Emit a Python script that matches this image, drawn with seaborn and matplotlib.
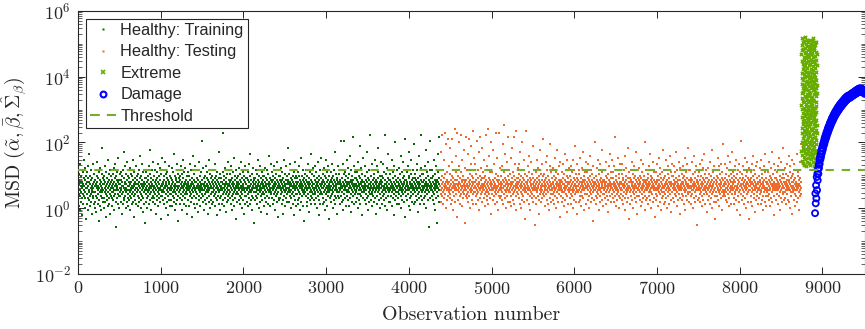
import numpy as np
import matplotlib
matplotlib.use("Agg")
import matplotlib.pyplot as plt
import matplotlib.mathtext as mathtext
import seaborn as sns
from matplotlib.lines import Line2D
from matplotlib.ticker import FixedLocator, LogLocator, NullFormatter, LogFormatterMathtext

# ---------------- data ----------------
TRAIN_RANGE = [1, 4370]        # observation numbers of healthy training samples
TEST_RANGE = [4381, 8745]      # observation numbers of healthy testing samples
EXTREME_RANGE = [8746, 8935]
DAMAGE_RANGE = [8912, 9516]
THRESHOLD = 14.5

# healthy MSD values, coded: log10(MSD) = HEALTHY_LOG_LO + HEALTHY_LOG_STEP * code
HEALTHY_LOG_LO = -2.02
HEALTHY_LOG_STEP = 0.06
TRAIN_CODES = """
44 38 51 46 41 35 48 43 56 40 47 33 45 50 42 37 53 44 39 47 30 46 41 52 45 36 49 43 58 40 45 34 48 42 54 39 46 44 28 50
41 47 36 52 44 39 49 33 45 55 42 38 47 43 61 40 46 35 50 44 41 53 37 48 42 45 31 49 43 39 56 46 40 44 51 36 47 42 45 34
48 42 37 45 53 40 46 32 44 50 39 47 57 43 36 49 41 45 27 52 44 38 46 42 54 35 48 43 40 47 45 33 51 39 44 64 42 46 37 49
43 50 39 46 34 48 42 55 44 37 47 41 52 45 29 43 49 38 46 40 58 44 35 47 42 51 39 45 48 36 43 53 41 46 31 50 44 40 47 42
45 39 48 35 44 51 42 46 38 54 43 40 47 33 49 45 41 56 37 46 43 50 24 44 48 39 45 52 41 36 47 43 59 40 46 34 48 44 42 51
40 46 52 43 37 48 44 31 45 50 41 47 36 53 42 45 39 49 44 62 38 46 43 55 40 47 34 44 51 42 46 37 48 43 57 39 45 41 50 35
47 43 38 49 45 40 54 42 46 33 44 51 39 47 43 36 50 45 41 58 44 37 48 42 52 40 46 29 45 49 38 43 47 41 55 44 36 46 50 42
42 48 44 35 51 40 46 43 39 53 45 37 47 42 60 44 49 34 46 41 50 38 45 43 56 40 48 32 44 46 39 52 42 47 45 36 49 43 26 46
46 41 49 37 44 52 43 39 47 45 34 50 42 48 40 55 44 36 46 43 51 38 45 63 41 47 44 33 49 42 46 39 53 45 40 48 37 43 57 44
39 45 50 42 47 36 44 53 41 48 43 31 46 40 52 45 38 49 44 56 42 35 47 43 50 39 46 41 54 44 37 48 45 28 43 51 40 46 42 59
45 40 47 53 43 38 46 44 50 36 48 42 45 57 39 44 51 41 47 34 46 43 49 37 45 52 40 44 30 48 42 46 55 38 47 43 41 50 44 35
43 49 38 45 41 54 46 35 44 48 40 52 42 47 37 45 61 43 39 50 44 33 46 42 49 36 48 45 41 56 43 38 47 44 51 40 45 27 49 42
47 42 45 36 50 43 39 48 44 55 41 46 33 45 51 38 47 42 44 58 40 49 36 46 43 52 45 39 47 41 54 44 35 48 42 46 31 50 43 45
41 46 52 44 38 47 43 50 35 45 42 56 40 48 44 37 46 53 41 45 29 49 43 39 47 44 60 42 46 36 51 45 40 48 43 34 47 44 55 39
44 39 47 42 53 45 36 49 41 46 44 32 48 43 57 40 45 38 50 44 42 47 35 52 43 46 39 45 68 41 48 44 37 46 43 54 40 49 45 33
46 43 38 50 44 41 47 55 42 36 45 49 43 52 39 46 44 31 48 42 45 58 40 47 43 37 51 44 46 34 49 41 45 53 38 44 47 42 50 36
42 48 44 37 46 53 40 45 43 49 35 47 41 56 44 39 46 50 42 30 48 45 38 52 43 47 40 44 62 36 49 42 46 45 33 51 43 39 47 44
45 40 49 43 36 47 44 52 41 46 38 72 44 50 42 35 48 45 39 54 43 46 41 47 32 49 44 37 51 42 46 40 57 45 43 38 48 41 53 46
43 47 39 45 51 42 36 48 44 55 40 46 43 33 49 45 41 52 38 47 44 59 42 35 46 50 43 39 48 45 28 44 53 41 47 37 46 42 49 44
47 41 45 50 38 46 43 54 40 48 44 36 51 42 45 39 47 57 43 34 49 44 41 46 52 38 45 43 48 31 44 50 40 47 42 55 36 46 44 49
40 46 43 37 49 44 52 41 45 35 48 42 56 44 39 47 43 50 36 45 61 42 48 38 46 44 33 51 43 40 47 45 54 39 44 49 42 46 26 48
44 49 38 46 42 53 45 40 47 36 44 51 43 39 48 45 58 41 46 34 50 43 47 37 45 42 55 44 40 49 46 32 43 52 38 47 44 41 50 45
46 42 48 35 44 50 41 47 45 39 54 43 37 46 49 42 45 31 48 44 40 53 46 36 43 51 45 60 39 47 42 44 49 35 46 43 56 41 48 44
42 47 44 52 39 45 48 36 43 50 46 41 55 44 38 47 42 49 33 45 51 40 46 43 57 37 48 44 41 53 45 29 47 42 50 38 46 44 39 48
45 39 50 43 47 41 54 44 36 48 42 46 52 38 45 44 31 49 43 40 47 58 45 35 46 42 51 44 39 48 43 55 37 46 41 50 44 64 42 47
48 43 37 46 44 51 40 47 42 56 45 34 49 43 46 39 53 41 45 48 36 44 50 42 47 30 45 52 40 46 43 38 49 44 57 41 47 45 35 50
41 46 49 44 38 52 43 47 36 45 50 42 55 39 46 44 33 48 41 47 45 59 37 43 50 46 40 44 53 42 48 35 45 49 43 27 47 41 51 44
46 42 45 53 40 48 44 37 47 43 50 35 46 41 56 44 39 49 45 32 47 42 52 38 46 44 61 40 48 43 36 45 51 42 47 39 54 44 46 41
43 50 38 46 44 41 48 55 42 36 47 45 52 39 44 49 34 46 43 57 40 47 42 45 30 50 44 38 48 43 53 41 46 36 49 45 42 59 44 47
47 41 46 36 51 44 39 48 42 54 45 37 47 43 50 33 46 41 49 44 58 38 45 52 42 47 35 44 48 40 55 43 46 28 50 42 45 39 47 43
44 48 40 45 52 37 47 43 49 41 56 44 34 46 50 42 38 48 45 53 40 47 43 62 36 46 44 51 39 45 48 31 43 49 42 46 55 40 47 44
42 46 51 39 48 44 36 47 43 53 45 40 68 46 37 49 44 42 56 38 47 45 33 51 43 46 68 41 48 44 39 52 45 35 47 43 50 42 58 46
45 40 47 54 43 38 49 44 46 35 51 42 47 60 39 45 48 41 53 44 32 46 43 50 37 47 45 70 42 48 40 44 55 36 46 43 49 41 45 52
43 49 37 46 42 52 45 39 48 44 57 41 47 34 45 50 43 38 46 65 44 41 49 36 47 43 54 40 46 45 30 48 42 51 44 39 47 59 43 45
47 42 45 50 38 46 44 55 41 48 36 45 43 52 39 47 62 44 40 49 45 33 46 42 53 37 48 44 71 41 46 43 50 38 45 47 35 44 56 42
41 46 48 43 53 40 45 37 49 44 51 42 47 58 39 46 44 31 48 43 55 45 40 47 36 52 44 42 49 64 46 38 45 43 50 41 47 34 44 57
44 48 39 46 42 50 45 36 47 43 56 40 49 44 38 52 45 41 46 71 43 35 48 44 51 39 46 42 54 47 33 45 43 49 40 61 44 46 37 48
46 42 51 44 37 48 43 45 53 40 47 35 46 44 58 42 49 39 45 52 43 30 47 41 55 44 46 38 50 43 67 45 40 48 42 36 47 44 53 45
42 47 45 39 49 43 54 41 46 36 48 44 51 45 40 60 43 47 34 46 42 52 44 38 49 45 41 57 43 47 37 46 50 44 29 48 42 69 45 43
45 40 48 43 52 46 38 47 44 55 41 45 35 49 43 50 62 39 46 44 47 33 51 42 45 58 40 48 44 37 46 53 43 41 49 45 36 47 66 44
43 49 42 46 37 51 44 40 48 45 56 38 47 43 53 41 46 32 49 44 45 60 39 47 42 50 36 46 44 54 40 48 43 71 45 38 47 42 51 44
47 43 45 51 39 48 44 36 46 42 55 45 40 49 43 63 47 34 45 52 41 46 44 38 50 43 57 46 42 48 24 45 44 53 39 47 68 43 49 45
44 46 40 49 43 53 45 38 47 42 50 36 46 44 58 41 48 45 33 51 43 47 39 55 44 46 26 48 42 45 61 40 47 44 52 37 49 43 46 70
"""
TEST_CODES = """
45 41 48 62 43 37 50 44 46 71 40 47 42 53 36 49 45 58 43 39 46 72 44 51 41 47 34 45 66 43 48 38 52 44 46 69 40 47 43 55
42 47 44 39 51 45 64 41 48 36 46 43 57 44 50 38 69 45 42 47 33 49 44 53 40 46 74 43 48 37 45 60 41 52 44 46 29 48 43 72
46 43 50 38 45 55 42 47 67 44 40 49 36 46 43 52 45 71 41 48 44 35 47 58 42 45 50 39 46 63 43 48 41 54 44 26 47 45 70 40
43 48 41 46 53 39 45 61 44 37 49 42 47 69 45 40 51 43 46 34 48 56 44 42 65 38 47 45 50 43 73 41 46 36 49 44 59 42 47 45
47 42 45 56 40 48 44 36 51 43 68 46 41 49 45 38 53 42 47 62 44 33 46 50 43 70 39 48 45 41 54 44 46 37 49 42 64 45 43 52
44 39 49 43 46 58 41 47 45 35 50 42 71 44 48 38 46 43 55 40 74 45 47 42 36 49 44 60 41 46 43 52 39 48 45 67 43 31 47 44
41 46 52 44 38 48 43 63 45 40 47 56 42 49 44 36 46 72 43 51 41 45 48 37 44 59 42 47 45 33 50 43 72 46 40 48 44 54 39 46
45 43 47 40 50 44 55 38 46 42 66 48 44 36 45 52 41 76 47 43 39 49 45 61 42 46 34 48 44 57 40 47 43 70 45 50 37 46 42 53
43 48 42 46 37 51 44 59 40 47 45 35 49 43 64 46 41 52 44 38 47 70 42 45 50 36 48 43 56 45 40 46 73 44 33 49 42 47 45 54
46 41 49 44 56 39 47 43 51 36 45 48 62 42 46 44 34 50 41 47 67 45 38 49 43 53 40 46 44 58 37 48 42 45 28 51 43 47 73 44
42 47 44 50 38 46 43 55 41 48 45 36 52 44 60 40 47 43 49 33 46 45 57 42 48 39 44 51 41 65 46 43 37 49 45 53 40 47 44 25
45 43 48 39 52 44 46 36 49 42 47 58 43 40 45 54 44 38 50 46 31 48 43 63 41 47 45 37 51 44 42 56 46 39 48 43 69 45 41 50
47 42 45 51 40 48 44 35 46 43 57 41 49 45 38 53 43 47 60 44 36 46 42 50 45 33 48 44 55 39 47 43 66 41 46 45 52 37 49 44
43 49 41 46 54 38 47 44 42 50 36 45 59 43 48 40 46 52 44 34 49 42 47 63 45 39 51 43 46 37 55 44 41 48 45 29 47 43 57 46
44 40 48 45 52 42 37 47 43 56 46 39 49 44 35 51 42 46 61 43 48 38 45 53 41 47 44 32 50 45 58 40 46 43 49 36 47 44 54 42
46 43 39 50 44 47 55 41 45 36 48 43 52 46 40 58 44 34 47 42 49 45 38 53 43 46 65 41 48 44 37 51 45 42 47 31 49 43 56 45
42 48 45 37 51 43 46 53 40 47 44 59 38 49 45 42 35 47 43 54 46 40 48 44 62 39 45 50 43 47 33 46 44 52 41 48 45 57 36 44
45 41 47 52 44 38 49 43 46 56 40 48 45 34 50 42 47 44 60 37 46 43 53 41 48 45 39 51 44 27 47 42 55 46 43 49 38 45 67 43
43 47 40 46 50 44 36 48 42 54 45 39 47 43 58 41 46 44 33 51 45 40 48 43 56 37 47 44 49 42 63 46 38 45 52 41 48 44 35 47
47 43 48 41 45 53 39 46 44 50 36 47 42 57 45 40 49 43 46 32 51 44 38 48 45 55 42 46 61 40 47 43 52 37 45 44 49 41 58 46
44 46 39 49 43 52 45 37 47 42 55 44 40 70 46 43 50 35 48 45 41 53 44 38 47 43 59 46 42 49 34 45 51 40 47 44 56 39 46 43
41 47 44 51 38 46 43 56 45 40 48 36 49 44 53 42 46 60 39 47 45 33 50 43 48 41 54 44 37 46 42 64 45 49 43 39 52 44 47 28
45 42 49 44 36 47 43 53 40 48 45 57 38 46 44 51 42 47 34 49 45 41 55 43 46 39 50 44 62 37 48 42 45 53 40 47 44 31 49 43
46 44 40 48 43 54 45 38 47 42 50 46 35 49 44 58 41 45 43 52 37 48 44 46 56 39 47 42 50 45 33 48 43 67 40 46 44 53 38 47
43 48 45 39 51 44 46 36 49 42 55 45 40 47 43 61 38 46 44 50 34 48 42 47 53 45 41 49 44 57 37 46 43 52 39 48 45 29 47 44
47 41 46 52 43 38 48 44 56 40 47 45 35 50 43 46 59 42 48 44 37 51 45 41 54 43 47 33 49 44 46 39 52 42 63 45 40 48 44 36
44 49 42 46 37 50 45 41 53 43 47 58 39 48 44 34 46 42 51 45 40 55 43 47 36 49 44 60 41 46 43 52 38 47 45 32 50 42 56 46
42 46 50 44 39 48 43 55 45 37 47 41 52 44 46 62 40 49 43 35 47 45 53 42 48 38 46 44 57 41 50 43 45 31 48 44 39 54 46 43
45 43 47 38 51 44 41 49 46 55 40 47 43 36 50 45 59 42 48 44 33 46 52 40 47 43 56 45 38 49 44 64 42 46 41 53 37 48 45 44
48 42 45 53 40 47 44 36 49 43 57 45 41 48 46 34 51 43 47 60 39 45 44 52 42 49 37 46 43 55 45 40 48 44 25 47 43 50 38 46
43 47 44 39 52 45 41 48 56 43 37 46 50 44 42 58 40 47 45 35 49 43 54 46 38 48 44 61 41 45 43 51 36 47 44 53 42 49 45 32
46 41 49 44 54 38 47 43 45 51 40 48 44 36 57 42 46 45 39 50 43 47 63 41 48 44 34 52 45 42 46 55 37 49 43 47 40 53 44 28
44 48 42 46 37 50 45 53 40 47 43 59 44 38 49 42 46 55 35 48 45 41 51 43 47 39 56 44 46 33 49 42 52 45 40 48 43 66 46 41
42 45 49 43 56 40 47 44 38 51 46 42 54 37 48 44 45 60 41 47 43 35 50 46 39 53 44 48 42 57 45 36 47 43 51 41 49 44 62 45
47 43 46 52 39 48 44 36 50 42 55 45 41 47 43 58 38 49 45 44 33 51 43 46 53 40 48 44 37 56 42 47 45 30 49 43 52 41 46 68
45 41 48 44 51 38 46 43 55 40 49 45 36 47 42 53 44 59 39 48 46 34 50 43 45 57 41 47 44 52 37 49 42 46 28 48 45 54 43 47
43 48 45 40 52 46 37 49 44 56 42 47 35 50 43 46 60 41 48 45 39 53 44 47 32 51 43 46 38 55 45 42 49 44 57 40 47 43 36 46
46 44 39 50 43 47 54 41 45 48 36 46 43 58 42 49 44 38 51 45 40 47 33 46 44 55 42 48 45 37 52 43 61 40 47 44 49 35 46 43
42 47 44 52 40 46 43 57 38 48 45 41 50 44 35 47 43 54 46 39 49 42 62 45 37 48 44 51 43 46 30 47 45 56 40 49 43 46 53 44
45 43 49 38 46 52 44 41 48 36 55 45 43 47 59 40 46 44 33 50 42 48 45 53 39 47 43 57 44 37 49 46 41 51 45 64 42 47 44 38
44 49 42 46 54 39 47 45 36 51 43 48 56 41 46 44 38 50 45 43 60 37 48 44 47 34 52 43 46 55 40 49 45 42 47 31 50 44 58 43
47 42 45 51 38 48 44 56 41 46 43 35 49 45 53 40 47 44 61 37 46 43 50 45 39 52 44 48 33 46 42 57 45 40 49 43 66 44 47 41
"""

# extreme MSD values, coded: log10(MSD) = EXTREME_LOG_LO + EXTREME_LOG_STEP * code
EXTREME_LOG_LO = 1.24
EXTREME_LOG_STEP = 0.0405
EXTREME_CODES = """
12 85 47 63 30 92 5 71 38 56 19 80 44 97 26 67 9 52 88 35 74 15 60 41 94 22 78 50 3 66 33 89 57 17 76 45 2 83 28 62
49 8 70 36 95 24 58 81 13 43 68 31 90 6 54 77 20 39 86 61 27 98 11 73 48 34 64 1 82 53 18 93 40 72 25 59 87 14 46 79
37 65 4 91 29 55 84 21 69 42 10 96 32 75 51 16 63 88 7 44 80 23 58 35 94 12 70 49 27 85 3 61 38 77 19 54 90 31 67 46
83 15 57 26 72 40 96 9 64 33 87 50 18 78 43 2 69 91 24 56 37 81 11 66 48 29 93 60 20 74 41 85 6 52 34 89 13 71 45 62
28 79 53 17 95 39 68 8 47 86 22 61 36 76 4 58 92 30 65 44 14 83 51 25 73 10 97 42 59 19 88 33 70 1 55 80 27 64 38 90
16 50 75 35 94 23 63 45 11 84 57 31 92 7 68 40 78 21 54 87 3 46 66 28 81 13 60 36 94 49 18 72 42 85 26 56 9 77 32 62
"""

# damage MSD values, log10(MSD)
DAMAGE_LOG10 = [
    -0.15, 0.45, 0.15, 0.70, 0.30, 0.95, 0.55, 1.05, 0.85, 1.20, 1.05, 1.32, 1.22, 1.45, 1.35, 1.55,
    1.48, 1.65, 1.56, 1.75, 1.66, 1.83, 1.74, 1.91, 1.81, 1.98, 1.90, 2.05, 1.96, 2.13, 2.04, 2.19,
    2.10, 2.25, 2.16, 2.31, 2.23, 2.37, 2.28, 2.43, 2.34, 2.48, 2.40, 2.53, 2.45, 2.59, 2.50, 2.63,
    2.55, 2.68, 2.60, 2.73, 2.64, 2.77, 2.68, 2.81, 2.73, 2.85, 2.77, 2.89, 2.81, 2.93, 2.84, 2.96,
    2.88, 2.99, 2.91, 3.03, 2.94, 3.06, 2.97, 3.09, 3.00, 3.12, 3.03, 3.15, 3.06, 3.17, 3.09, 3.20,
    3.11, 3.22, 3.14, 3.25, 3.16, 3.27, 3.19, 3.29, 3.21, 3.32, 3.23, 3.34, 3.26, 3.36, 3.28, 3.38,
    3.30, 3.40, 3.32, 3.42, 3.34, 3.41, 3.34, 3.43, 3.36, 3.44, 3.37, 3.46, 3.38, 3.47, 3.40, 3.49,
    3.41, 3.50, 3.43, 3.51, 3.44, 3.53, 3.45, 3.54, 3.47, 3.56, 3.48, 3.57, 3.49, 3.59, 3.50, 3.60,
    3.52, 3.61, 3.53, 3.63, 3.54, 3.64, 3.55, 3.64, 3.56, 3.65, 3.56, 3.64, 3.55, 3.63, 3.54, 3.62,
    3.53, 3.61, 3.52, 3.59, 3.50, 3.58, 3.48, 3.56,
]

LABELS = ["Healthy: Training", "Healthy: Testing", "Extreme", "Damage", "Threshold"]
X_TICKS = [0, 1000, 2000, 3000, 4000, 5000, 6000, 7000, 8000, 9000]
Y_TICKS = [1e-2, 1e0, 1e2, 1e4, 1e6]
X_LIM = [0, 9516]
Y_LIM = [1e-2, 1e6]

# ---------------- decode ----------------
def decode(codes, lo, step):
    c = np.array([int(v) for v in codes.split()], dtype=float)
    return 10 ** (lo + step * c)

train_y = decode(TRAIN_CODES, HEALTHY_LOG_LO, HEALTHY_LOG_STEP)
test_y = decode(TEST_CODES, HEALTHY_LOG_LO, HEALTHY_LOG_STEP)
ext_y = decode(EXTREME_CODES, EXTREME_LOG_LO, EXTREME_LOG_STEP)
dam_y = 10 ** np.array(DAMAGE_LOG10)
train_x = np.linspace(TRAIN_RANGE[0], TRAIN_RANGE[1], len(train_y))
test_x = np.linspace(TEST_RANGE[0], TEST_RANGE[1], len(test_y))
ext_x = np.linspace(EXTREME_RANGE[0], EXTREME_RANGE[1], len(ext_y))
dam_x = np.linspace(DAMAGE_RANGE[0], DAMAGE_RANGE[1], len(dam_y))

# ---------------- style ----------------
sns.set_style("ticks")
plt.rcParams["font.family"] = "serif"
plt.rcParams["font.serif"] = ["cmr10"]
plt.rcParams["mathtext.fontset"] = "cm"
plt.rcParams["axes.formatter.use_mathtext"] = True
plt.rcParams["axes.unicode_minus"] = False

C_TRAIN = "#0a670a"
C_TEST = "#ee6b2e"
C_EXT = "#66ad00"
C_DAM = "#0000ff"
C_THR = "#77ac30"
C_AX = "#262626"

# y label: bold Sigma if the mathtext parser supports \boldsymbol
YLABEL = r"MSD $(\tilde{\alpha}, \bar{\beta}, \hat{\boldsymbol{\Sigma}}_{\beta})$"
try:
    mathtext.MathTextParser("path").parse(YLABEL[4:], dpi=100)
except Exception:
    YLABEL = r"MSD $(\tilde{\alpha}, \bar{\beta}, \hat{\mathbf{\Sigma}}_{\beta})$"

fig = plt.figure(figsize=(8.65, 3.29), dpi=100)
ax = fig.add_axes([0.0902, 0.1672, 0.9098, 0.7994])

sns.scatterplot(x=train_x, y=train_y, ax=ax, marker="s", s=4.2, color=C_TRAIN,
                linewidth=0, zorder=2)
sns.scatterplot(x=test_x, y=test_y, ax=ax, marker="s", s=4.2, color=C_TEST,
                linewidth=0, zorder=2)
sns.scatterplot(x=ext_x, y=ext_y, ax=ax, marker="x", s=6, color=C_EXT,
                linewidth=1.0, zorder=3)
sns.scatterplot(x=dam_x, y=dam_y, ax=ax, marker="o", s=19, facecolor="none",
                edgecolor=C_DAM, linewidth=1.3, zorder=4)
ax.axhline(THRESHOLD, color=C_THR, lw=1.5, ls="--", dashes=(4.0, 3.8), zorder=5)

ax.set_yscale("log")
ax.set_xlim(*X_LIM)
ax.set_ylim(*Y_LIM)
ax.xaxis.set_major_locator(FixedLocator(X_TICKS))
ax.yaxis.set_major_locator(FixedLocator(Y_TICKS))
ax.yaxis.set_major_formatter(LogFormatterMathtext())
ax.yaxis.set_minor_locator(LogLocator(base=10, subs=np.arange(1, 10), numticks=40))
ax.yaxis.set_minor_formatter(NullFormatter())
ax.tick_params(which="both", direction="in", top=True, right=True, colors=C_AX,
               labelcolor=C_AX)
ax.tick_params(which="major", length=5, width=0.7, labelsize=13)
ax.tick_params(axis="x", which="major", pad=4.5)
ax.tick_params(axis="y", which="major", pad=5)
ax.tick_params(which="minor", length=2.6, width=0.5)
for sp in ax.spines.values():
    sp.set_linewidth(0.8)
    sp.set_color(C_AX)

ax.set_xlabel("Observation number", fontsize=14.3, color=C_AX, labelpad=6.5)
ax.set_ylabel(YLABEL, fontsize=14.3, color=C_AX, labelpad=4)

handles = [
    Line2D([], [], ls="none", marker="s", ms=1.6, mfc=C_TRAIN, mec="none"),
    Line2D([], [], ls="none", marker="s", ms=1.6, mfc=C_TEST, mec="none"),
    Line2D([], [], ls="none", marker="x", ms=3.2, mew=1.2, color=C_EXT),
    Line2D([], [], ls="none", marker="o", ms=4.2, mfc="none", mec=C_DAM, mew=1.5),
    Line2D([], [], ls="--", color=C_THR, lw=1.5, dashes=(4.7, 3.4)),
]
leg = ax.legend(handles, LABELS, loc="upper left", bbox_to_anchor=(0.0102, 0.9696),
                borderaxespad=0, frameon=True, fancybox=False, framealpha=1,
                edgecolor=C_AX, prop={"family": "Liberation Sans", "size": 11.8},
                handlelength=1.55, handletextpad=0.3, borderpad=0.25, labelspacing=0.39)
leg.get_frame().set_linewidth(0.8)

fig.savefig("out.png", dpi=100)
